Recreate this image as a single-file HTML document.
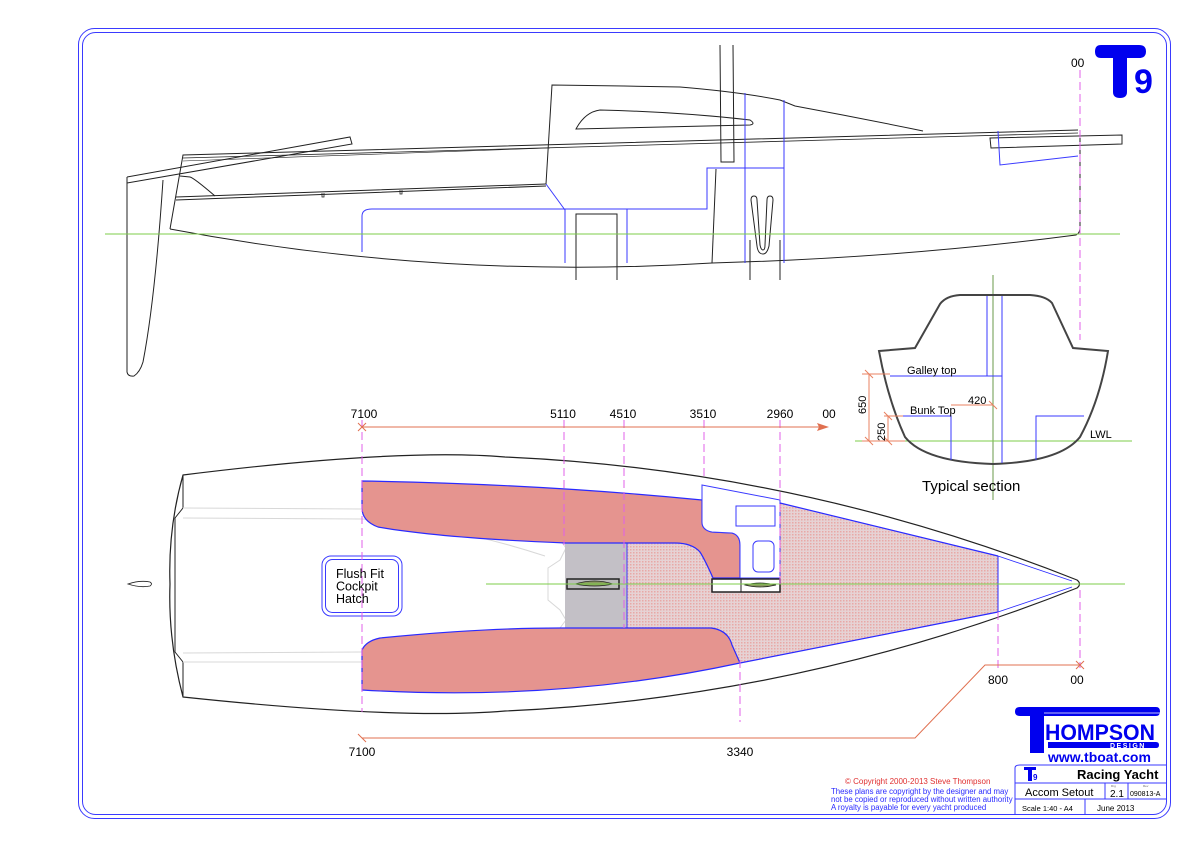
<!DOCTYPE html>
<html><head><meta charset="utf-8"><style>
html,body{margin:0;padding:0;background:#fff;width:1200px;height:848px;overflow:hidden}
svg{display:block}
text{font-family:"Liberation Sans",Arial,sans-serif}
</style></head><body>
<svg width="1200" height="848" viewBox="0 0 1200 848" xmlns="http://www.w3.org/2000/svg">
<defs>
<pattern id="dots" width="3" height="3" patternUnits="userSpaceOnUse">
<rect width="3" height="3" fill="#e6d2d4"/><rect width="1.5" height="1.5" fill="#e8a8a6"/>
</pattern>
</defs>
<!-- border -->
<rect x="78.5" y="28.5" width="1092" height="790" rx="16" fill="none" stroke="#3a3aff" stroke-width="1"/>
<rect x="82.5" y="32.5" width="1084" height="782" rx="13" fill="none" stroke="#3a3aff" stroke-width="1"/>

<!-- ===== PROFILE ===== -->
<g fill="none" stroke="#222" stroke-width="1">
<path d="M127,177 L127,372 Q128,377 134,376 Q140,372 143,362 Q155,300 163,180"/>
<path d="M127,177 L350,137 L352,144 L127,183"/>
<path d="M170,229 L183,155 L1078,130"/>
<path d="M183,158 L1078,133" stroke-width="0.8"/>
<path d="M183,161 L550,148" stroke-width="0.6"/>
<path d="M180,176 L190,177 Q194,178 215,196"/>
<path d="M176,197 L546,184 M176,200 L546,186"/>
<path d="M546,184 L565,210" stroke="#3a3aff"/>
<path d="M322,193 v4 h2 v-4 M400,190 v4 h2 v-4" stroke-width="0.8"/>
<path d="M170,229 Q440,280 712,263 Q900,258 1076,235 Q1080,233 1080,228 L1080,130"/>
<path d="M546,184 L552,85 L624,86 L680,87 Q740,92 780,100 L795,106 Q860,118 923,131"/>
<path d="M576,129 Q585,112 600,110 Q680,112 750,120 Q756,124 750,125 Q660,127 576,129Z"/>
<path d="M720,45 L721,162 L734,162 L733,45"/>
<path d="M716,169 L712,263"/>
<path d="M576,280 L576,214 L617,214 L617,280"/>
<path d="M750,240 L750,280 M780,240 L780,280"/>
<path d="M751,200 Q751,196 754,196 Q757,196 757,200 L760,245 Q761,250 763,250 Q765,250 765,245 L767,200 Q767,196 770,196 Q773,196 773,200 L769,246 Q767,254 763,254 Q758,254 757,246 Z"/>
<path d="M990,138 L1122,135 L1122,144 L991,148 Z"/>
</g>
<g fill="none" stroke="#3a3aff" stroke-width="1">
<path d="M362,252 L362,216 Q362,209 372,209 L707,209 L707,168 L784,168"/>
<path d="M745,93 L745,263 M784,100 L784,263"/>
<path d="M565,209 L565,263 M627,209 L627,263"/>
<path d="M998,131 L1000,165 L1078,156"/>
</g>
<line x1="105" y1="234" x2="1120" y2="234" stroke="#7ccc4a" stroke-width="1"/>
<line x1="1080" y1="70" x2="1080" y2="340" stroke="#e060e8" stroke-width="1" stroke-dasharray="8,4"/>
<text x="1071" y="67" font-size="12" fill="#000">00</text>
<path d="M1101,45 L1139,45 Q1146,45 1146,51.5 Q1146,58 1139,58 L1127,58 L1127,92 Q1127,98 1120,98 Q1113,98 1113,92 L1113,58 L1101,58 Q1095,58 1095,51.5 Q1095,45 1101,45Z" fill="#0000ee"/>
<text x="1134" y="93" font-size="34" font-weight="bold" fill="#0000ee">9</text>

<!-- ===== SECTION ===== -->
<line x1="993" y1="275" x2="993" y2="500" stroke="#6a9a4a" stroke-width="1"/>
<line x1="855" y1="441" x2="1132" y2="441" stroke="#7ccc4a" stroke-width="1"/>
<path d="M879,351 L915,348 L940,304 Q946,296 960,295 L1030,295 Q1046,296 1052,303 L1073,348 L1108,351 Q1100,400 1080,437 Q1060,462 993,464 Q925,462 905,437 Q888,400 879,351Z" fill="none" stroke="#444" stroke-width="2"/>
<g stroke="#3a3aff" stroke-width="1" fill="none">
<path d="M987,296 L987,376 M1002,296 L1002,463"/>
<path d="M890,376 L1002,376"/>
<path d="M903,416 L951,416 L951,460"/>
<path d="M1036,460 L1036,416 L1084,416"/>
</g>
<g stroke="#e88060" stroke-width="1" fill="none">
<path d="M862,374 L890,374 M862,441 L905,441 M884,416 L903,416"/>
<path d="M869,374 L869,441 M888,416 L888,441"/>
<path d="M951,405 L993,405"/>
<path d="M865,370 l8,8 M865,437 l8,8 M884,412 l8,8 M884,437 l8,8 M989,401 l8,8"/>
</g>
<text x="907" y="374" font-size="11">Galley top</text>
<text x="910" y="414" font-size="11">Bunk Top</text>
<text x="968" y="404" font-size="11">420</text>
<text x="1090" y="438" font-size="11">LWL</text>
<text transform="translate(866,414) rotate(-90)" font-size="11">650</text>
<text transform="translate(885,441) rotate(-90)" font-size="11">250</text>
<text x="922" y="491" font-size="15">Typical section</text>

<!-- ===== PLAN ===== -->
<path d="M183,475 Q400,448 505,457 Q800,470 1077,580 Q1082,584 1077,588 Q800,698 505,711 Q400,720 183,697 Q168,640 170,584 Q168,528 183,475Z" fill="#fff" stroke="#222" stroke-width="1.2"/>
<path d="M183,475 L183,508 L175,518 L175,652 L183,662 L183,697" fill="none" stroke="#222" stroke-width="1"/>
<g stroke="#d8d8d8" stroke-width="1" fill="none">
<path d="M183,508 L362,509 M183,518 L362,519 M183,653 L362,652 M183,662 L362,662"/>
<path d="M362,509 Q460,512 560,540 L566,548 L560,560 L548,568 L548,600 L560,610 L566,620 L560,628"/>
<path d="M362,519 Q450,525 545,556"/>
<path d="M553,498 L560,540 M553,498 Q700,495 780,515 Q900,540 930,584 Q900,628 780,654 Q700,672 560,672"/>
<path d="M627,543 Q850,560 910,584 Q850,610 627,628"/>
</g>
<path d="M627,543 L700,543 L780,503 L998,556 L998,612 L740,663 L711,628 L627,628Z" fill="url(#dots)"/>
<rect x="565" y="543" width="62" height="85" fill="#c3c0c6"/>
<path d="M627,543 L627,628" stroke="#3a3aff" stroke-width="1"/>
<path d="M362,481 Q540,484 702,500 L702,522 Q702,530 712,532 L732,533 Q740,535 740,545 L740,578 L713,578 Q705,560 700,552 Q692,543 675,543 L566,543 Q440,538 378,527 Q362,521 362,508Z" fill="#e5948f" stroke="#2a2aff" stroke-width="1.2"/>
<path d="M702,485 L780,500 L780,578 L740,578 L740,545 Q740,535 732,533 L712,532 Q702,530 702,522Z" fill="#fff" stroke="#3a3aff" stroke-width="1"/>
<rect x="736" y="506" width="39" height="20" fill="none" stroke="#3a3aff"/>
<rect x="753" y="541" width="21" height="31" rx="5" fill="none" stroke="#3a3aff"/>
<rect x="712" y="579" width="68" height="13" fill="#fff" stroke="#222" stroke-width="1.5"/>
<line x1="741" y1="579" x2="741" y2="592" stroke="#222"/>
<path d="M745,585 Q760,581 776,585 Q760,589 745,585Z" fill="#8a9a60" stroke="#222" stroke-width="0.7"/>
<rect x="567" y="579" width="52" height="10" fill="#bbb" stroke="#222" stroke-width="1.5"/>
<path d="M575,584 Q595,578 613,584 Q595,588 575,584Z" fill="#8a9a60" stroke="#222" stroke-width="0.7"/>
<path d="M362,650 Q366,641 380,638 Q480,628 560,628 L711,628 Q728,630 732,645 L740,663 Q560,702 362,690Z" fill="#e5948f" stroke="#2a2aff" stroke-width="1.2"/>
<g stroke="#2a2aff" stroke-width="1.2" fill="none">
<path d="M780,503 L998,556 M740,663 L998,612"/>
<path d="M998,556 L998,612" stroke-width="1"/>
<path d="M998,556 L1072,581 M998,612 L1072,587" stroke-width="0.8"/>
</g>
<path d="M128,584 Q140,580 150,582 Q153,584 150,586 Q140,588 128,584Z" fill="none" stroke="#222" stroke-width="0.8"/>
<rect x="322" y="556" width="80" height="60" rx="9" fill="#fff" stroke="#3a3aff"/>
<rect x="325.5" y="559.5" width="73" height="53" rx="7" fill="none" stroke="#3a3aff"/>
<text x="336" y="578" font-size="12.5">Flush Fit</text>
<text x="336" y="590.5" font-size="12.5">Cockpit</text>
<text x="336" y="603" font-size="12.5">Hatch</text>
<line x1="486" y1="584" x2="1125" y2="584" stroke="#7ccc4a" stroke-width="1"/>
<g stroke="#e060e8" stroke-width="1" stroke-dasharray="8,4" fill="none">
<path d="M362,420 L362,712 M564,420 L564,545 M624,420 L624,628 M704,420 L704,480 M780,420 L780,586 M740,660 L740,722 M998,612 L998,668 M1080,590 L1080,668"/>
</g>
<g stroke="#e07050" stroke-width="1" fill="none">
<path d="M362,427 L826,427"/>
<path d="M358,423 l8,8 M366,423 l-8,8"/>
<path d="M362,738 L915,738 L985,665 L1080,665"/>
<path d="M1076,661 l8,8 M1084,661 l-8,8 M358,734 l8,8"/>
</g>
<path d="M829,427 L817,423 L819,427 L817,431Z" fill="#e07050"/>
<g font-size="12" text-anchor="middle">
<text x="364" y="418">7100</text><text x="563" y="418">5110</text><text x="623" y="418">4510</text>
<text x="703" y="418">3510</text><text x="780" y="418">2960</text><text x="829" y="418">00</text>
<text x="362" y="756">7100</text><text x="740" y="756">3340</text>
<text x="998" y="684">800</text><text x="1077" y="684">00</text>
</g>

<!-- ===== TITLE BLOCK ===== -->
<path d="M1020,707 L1156,707 Q1160,707 1160,711.5 Q1160,716 1156,716 L1044,716 L1044,753 L1030,753 L1030,716 L1020,716 Q1015,716 1015,711.5 Q1015,707 1020,707Z" fill="#0000ee"/>
<line x1="1044" y1="713" x2="1160" y2="713" stroke="#fff" stroke-width="0.8"/>
<text x="1045" y="740" font-size="22" font-weight="bold" fill="#0000ee" textLength="110" lengthAdjust="spacingAndGlyphs">HOMPSON</text>
<path d="M1048,742 L1156,742 Q1159,742 1159,745 Q1159,748 1156,748 L1048,748Z" fill="#0000ee"/>
<text x="1110" y="748" font-size="7" font-weight="bold" fill="#fff" letter-spacing="1.5">DESIGN</text>
<text x="1048" y="762" font-size="14" font-weight="bold" fill="#0000ee">www.tboat.com</text>
<g stroke="#3a3aff" stroke-width="1" fill="none">
<path d="M1015,815 L1015,768 Q1015,765 1020,765 L1166,765"/>
<path d="M1015,783 L1166,783 M1015,799 L1166,799 M1105,783 L1105,799 M1128,783 L1128,799 M1085,799 L1085,815"/>
</g>
<path d="M1024,767 L1036,767 L1036,770 L1032,770 L1032,781 L1028,781 L1028,770 L1024,770Z" fill="#0000ee"/>
<text x="1033" y="780" font-size="8" font-weight="bold" fill="#0000ee">9</text>
<text x="1077" y="779" font-size="13" font-weight="bold">Racing Yacht</text>
<text x="1025" y="796" font-size="11">Accom Setout</text>
<text x="1111" y="787" font-size="3" fill="#666">Drg</text>
<text x="1110" y="797" font-size="10">2.1</text>
<text x="1143" y="787" font-size="3" fill="#666">Rev</text>
<text x="1130" y="796" font-size="7">090813-A</text>
<text x="1022" y="811" font-size="7.5">Scale   1:40 - A4</text>
<text x="1097" y="811" font-size="8">June 2013</text>
<text x="845" y="784" font-size="8" fill="#e03030">©  Copyright 2000-2013  Steve Thompson</text>
<g font-size="7.8" fill="#2a2aff">
<text x="831" y="794">These plans are copyright by the designer and may</text>
<text x="831" y="802">not be copied or reproduced without written authority</text>
<text x="831" y="810">A royalty is payable for every yacht produced</text>
</g>
</svg>
</body></html>
